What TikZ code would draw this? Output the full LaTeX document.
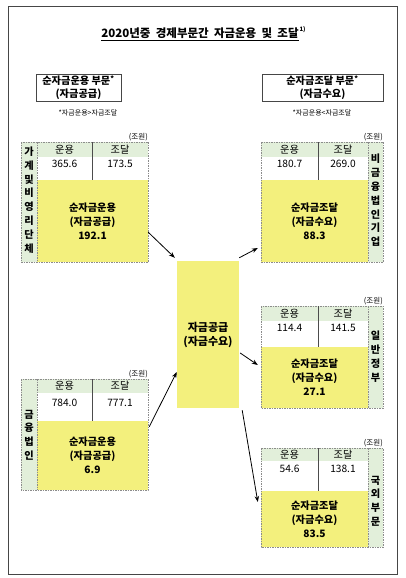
\documentclass[tikz,border=0pt]{standalone}
\usepackage{fontspec}
\setmainfont{Noto Sans CJK KR}
\usetikzlibrary{arrows.meta,calc}
\definecolor{yel}{RGB}{243,240,125}
\definecolor{grn}{RGB}{226,239,218}
\definecolor{dashgray}{RGB}{140,140,140}
\definecolor{framegray}{RGB}{70,70,70}
\tikzset{
  dashbox/.style={draw=dashgray, line width=0.6pt, dash pattern=on 1.5pt off 1pt},
  divider/.style={draw=black!70, line width=0.8pt},
  hd/.style={inner sep=0pt, font=\fontsize{10.2}{11}\selectfont},
  num/.style={inner sep=0pt, font=\fontsize{10.2}{11}\selectfont},
  ybox/.style={fill=yel, inner sep=0pt, align=center, font=\bfseries\fontsize{10.2}{13.8}\selectfont},
  sidelab/.style={inner sep=0pt, align=center, font=\bfseries\fontsize{10.2}{13.8}\selectfont},
  unit/.style={inner sep=0pt, font=\fontsize{7.5}{8}\selectfont},
  note/.style={inner sep=0pt, font=\fontsize{7}{8}\selectfont},
  headbox/.style={draw=framegray, line width=0.8pt, inner sep=0pt, align=center, minimum width=85pt, minimum height=27pt, font=\bfseries\fontsize{10.2}{13}\selectfont},
  arr/.style={-{Stealth[length=6pt,width=4.5pt]}, line width=0.8pt}
}
\begin{document}
\begin{tikzpicture}[x=1pt,y=-1pt]
\useasboundingbox (0,0) rectangle (405,578);
\fill[white] (0,0) rectangle (405,578);
\draw[framegray, line width=1pt] (8,7) rectangle (397,574);

% title
\node[inner sep=0pt, font=\bfseries\fontsize{11.5}{12}\selectfont] (title) at (200,33) {2020년중\ \ 경제부문간\ \ 자금운용\ \ 및\ \ 조달};
\node[inner sep=0pt, anchor=north west, font=\bfseries\fontsize{6}{6}\selectfont] (tsup) at ($(title.north east)+(0.5,-1)$) {1)};
\draw[line width=0.9pt] ($(title.base west)+(0,3)$) -- ($(title.base east)+(0,3)$);

% header boxes
\node[headbox] (hl) at (78.5,87.5) {순자금운용 부문\textsuperscript{*}\\(자금공급)};
\node[headbox, minimum width=121pt] (hr) at (322.5,87.5) {순자금조달 부문\textsuperscript{*}\\(자금수요)};
\node[note] (nl) at (88,113) {*자금운용>자금조달};
\node[note] (nr) at (322,113) {*자금운용<자금조달};

% ---- left block 1
\fill[grn] (21,142) rectangle (148,157);
\fill[grn] (21,142) rectangle (37,262);
\node[ybox, minimum width=111pt, minimum height=82pt] (l1y) at (92.5,221) {순자금운용\\(자금공급)\\192.1};
\draw[dashbox] (21,142) rectangle (148,262);
\draw[dashbox] (37,142) -- (37,262);
\draw[divider] (92,142) -- (92,180);
\node[hd] (l1h1) at (64.5,149.5) {운용};
\node[hd] (l1h2) at (120,149.5) {조달};
\node[num] (l1n1) at (64.5,163.5) {365.6};
\node[num] (l1n2) at (120,163.5) {173.5};
\node[sidelab] (l1s) at (29,200) {가\\계\\및\\비\\영\\리\\단\\체};
\node[unit, anchor=south east] (l1u) at (148,141) {(조원)};

% ---- left block 2
\fill[grn] (21,379) rectangle (148,393);
\fill[grn] (21,379) rectangle (37,490);
\node[ybox, minimum width=111pt, minimum height=69pt] (l2y) at (92.5,455.5) {순자금운용\\(자금공급)\\6.9};
\draw[dashbox] (21,379) rectangle (148,490);
\draw[dashbox] (37,379) -- (37,490);
\draw[divider] (92,379) -- (92,421);
\node[hd] (l2h1) at (64.5,386) {운용};
\node[hd] (l2h2) at (120,386) {조달};
\node[num] (l2n1) at (64.5,403) {784.0};
\node[num] (l2n2) at (120,403) {777.1};
\node[sidelab] (l2s) at (29,435) {금\\융\\법\\인};
\node[unit, anchor=south east] (l2u) at (148,378) {(조원)};

% ---- center
\node[ybox, minimum width=62pt, minimum height=147pt, font=\bfseries\fontsize{11}{14}\selectfont] (cen) at (208,334.5) {자금공급\\(자금수요)};

% ---- right block 1
\fill[grn] (261,142) rectangle (383,157);
\fill[grn] (368,142) rectangle (383,262);
\node[ybox, minimum width=107pt, minimum height=82pt] (r1y) at (314.5,221) {순자금조달\\(자금수요)\\88.3};
\draw[dashbox] (261,142) rectangle (383,262);
\draw[dashbox] (368,142) -- (368,262);
\draw[divider] (318,142) -- (318,180);
\node[hd] (r1h1) at (289.5,149.5) {운용};
\node[hd] (r1h2) at (343,149.5) {조달};
\node[num] (r1n1) at (289.5,163.5) {180.7};
\node[num] (r1n2) at (343,163.5) {269.0};
\node[sidelab] (r1s) at (375.5,200.5) {비\\금\\융\\법\\인\\기\\업};
\node[unit, anchor=south east] (r1u) at (383,141) {(조원)};

% ---- right block 2
\fill[grn] (261,306) rectangle (383,321);
\fill[grn] (368,306) rectangle (383,408);
\node[ybox, minimum width=107pt, minimum height=61pt] (r2y) at (314.5,377.5) {순자금조달\\(자금수요)\\27.1};
\draw[dashbox] (261,306) rectangle (383,408);
\draw[dashbox] (368,306) -- (368,408);
\draw[divider] (318,306) -- (318,347);
\node[hd] (r2h1) at (289.5,313.5) {운용};
\node[hd] (r2h2) at (343,313.5) {조달};
\node[num] (r2n1) at (289.5,327.5) {114.4};
\node[num] (r2n2) at (343,327.5) {141.5};
\node[sidelab] (r2s) at (375.5,356.5) {일\\반\\정\\부};
\node[unit, anchor=south east] (r2u) at (383,305) {(조원)};

% ---- right block 3
\fill[grn] (261,448) rectangle (383,461);
\fill[grn] (368,448) rectangle (383,547);
\node[ybox, minimum width=107pt, minimum height=56pt] (r3y) at (314.5,519) {순자금조달\\(자금수요)\\83.5};
\draw[dashbox] (261,448) rectangle (383,547);
\draw[dashbox] (368,448) -- (368,547);
\draw[divider] (318,448) -- (318,491);
\node[hd] (r3h1) at (289.5,454.5) {운용};
\node[hd] (r3h2) at (343,454.5) {조달};
\node[num] (r3n1) at (289.5,468.5) {54.6};
\node[num] (r3n2) at (343,468.5) {138.1};
\node[sidelab] (r3s) at (375.5,501) {국\\외\\부\\문};
\node[unit, anchor=south east] (r3u) at (383,447) {(조원)};

% ---- arrows
\draw[arr] ($(l1y.south east)+(0,-30)$) -- ($(cen.north west)+(-2,-3)$);
\draw[arr] ($(l2y.north east)+(1,6)$) -- ($(cen.west)+(0,37.5)$);
\draw[arr] ($(cen.north east)+(0,-3)$) -- ($(r1y.west)+(-3,27)$);
\draw[arr] ($(cen.east)+(1,18.5)$) -- ($(r2y.west)+(-3,-12.5)$);
\draw[arr] ($(cen.south east)+(3,2)$) -- ($(r3y.west)+(-3,-17)$);
\end{tikzpicture}
\end{document}
